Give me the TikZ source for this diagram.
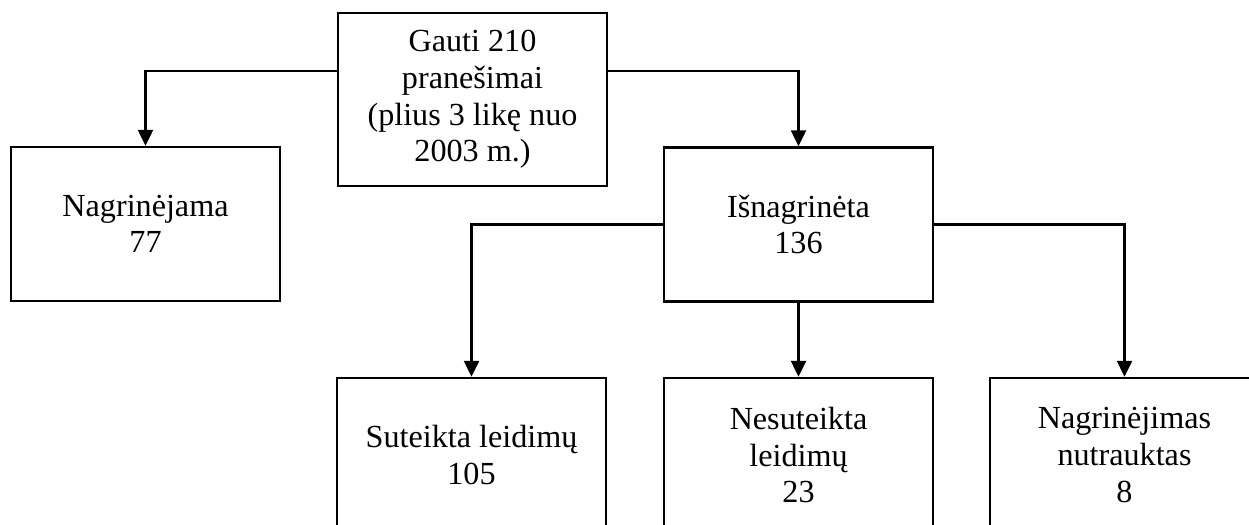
\documentclass[tikz,border=0pt]{standalone}
\usepackage{fontspec}
\setmainfont{Liberation Serif}
\usetikzlibrary{arrows.meta,positioning}

\begin{document}
\begin{tikzpicture}[%
    boite/.style={draw, line width=1.4pt, minimum width=5.38cm, minimum height=3.08cm,%
        inner sep=0pt, align=center, font=\fontsize{18.3}{20.8}\selectfont},%
    lien/.style={line width=1.4pt, -{Triangle[length=0.32cm, width=0.3cm]}}%
    ]
    % Cadre
    \useasboundingbox (0,0) rectangle (24.98,-10.48);%

    % Boites
    \node[boite, minimum height=3.46cm] (gauti) at (9.45,-1.99) {Gauti 210\\pranešimai\\(plius 3 likę nuo\\2003 m.)};%
    \node[boite] (nagrinejama) at (2.91,-4.48) {Nagrinėjama\\77};%
    \node[boite] (isnagrineta) at (15.97,-4.49) {Išnagrinėta\\136};%
    \node[boite] (suteikta) at (9.43,-9.10) {Suteikta leidimų\\105};%
    \node[boite] (nesuteikta) at (15.97,-9.10) {Nesuteikta\\leidimų\\23};%
    \node[boite] (nutrauktas) at (22.49,-9.10) {Nagrinėjimas\\nutrauktas\\8};%

    % Liens
    \draw[lien] ([yshift=0.57cm]gauti.west) -| (nagrinejama.north);%
    \draw[lien] ([yshift=0.57cm]gauti.east) -| (isnagrineta.north);%
    \draw[lien] (isnagrineta.west) -| (suteikta.north);%
    \draw[lien] (isnagrineta.south) -- (nesuteikta.north);%
    \draw[lien] (isnagrineta.east) -| (nutrauktas.north);%
\end{tikzpicture}
\end{document}
